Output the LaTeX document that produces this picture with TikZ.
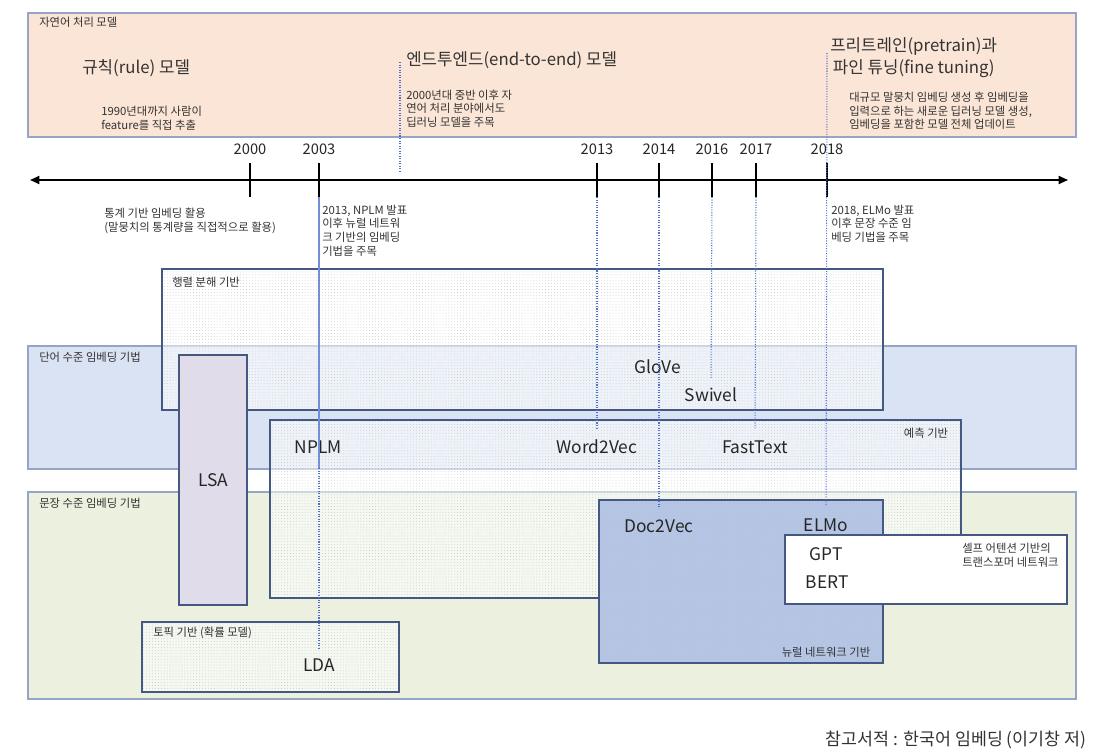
\documentclass[tikz,border=0pt]{standalone}
\usepackage{fontspec}
\setmainfont{Noto Sans CJK KR}
\usetikzlibrary{arrows.meta, patterns.meta}
\definecolor{nlp-bg}{RGB}{251,229,214}
\definecolor{word-bg}{RGB}{218,227,243}
\definecolor{sent-bg}{RGB}{235,241,222}
\definecolor{lsa-bg}{RGB}{224,220,234}
\definecolor{neural-bg}{RGB}{180,197,229}
\definecolor{band-line}{RGB}{150,165,195}
\definecolor{box-line}{RGB}{68,88,130}
\definecolor{mark-line}{RGB}{80,112,205}

\begin{document}
\begin{tikzpicture}[x=0.75pt, y=-0.75pt,
    small/.style={font=\fontsize{8.5}{10.2}\selectfont, text=black!80, align=left, inner sep=0pt, anchor=west},
    era/.style={font=\fontsize{12.6}{17}\selectfont, text=black!80, align=left, inner sep=0pt, anchor=west},
    model/.style={font=\fontsize{13}{15}\selectfont, text=black!85, inner sep=1pt},
    year/.style={font=\fontsize{11}{13}\selectfont, text=black!85},
    band/.style={draw=band-line, line width=0.8pt},
    group/.style={draw=box-line, line width=1.4pt},
    speckle/.style={pattern={Dots[radius=0.3pt, distance=2.2pt]}, pattern color=black!25},
    whiten/.style={preaction={fill=white, fill opacity=0.55}},
    markline/.style={draw=mark-line, line width=0.8pt, dash pattern=on 0.8pt off 1.1pt},
    solidmark/.style={draw=mark-line!80, line width=0.8pt}]
    \useasboundingbox (0,0) rectangle (1094,753);

    % NLP model eras
    \draw[band, fill=nlp-bg] (28,13) rectangle (1076,137);
    \node[small] (nlp) at (39,22) {자연어 처리 모델};
    \node[era] (rule) at (82,68) {규칙(rule) 모델};
    \node[small] (rule-txt) at (101,118.5) {1990년대까지 사람이\\feature를 직접 추출};
    \node[era] (e2e) at (406,60) {엔드투엔드(end-to-end) 모델};
    \node[small] (e2e-txt) at (406,108.5) {2000년대 중반 이후 자\\연어 처리 분야에서도\\딥러닝 모델을 주목};
    \node[era] (ptft) at (830,57.5) {프리트레인(pretrain)과\\\hspace{2pt}파인 튜닝(fine tuning)};
    \node[small] (ptft-txt) at (849,111) {대규모 말뭉치 임베딩 생성 후 임베딩을\\입력으로 하는 새로운 딥러닝 모델 생성,\\임베딩을 포함한 모델 전체 업데이트};

    % embedding levels
    \draw[band, fill=word-bg] (28,346) rectangle (1076,469);
    \draw[band, fill=sent-bg] (28,492) rectangle (1076,699);
    \node[small] (word-lvl) at (39,357) {단어 수준 임베딩 기법};
    \node[small] (sent-lvl) at (39,503) {문장 수준 임베딩 기법};

    % method groups
    \draw[group, whiten, speckle] (162,269) rectangle (883,410);
    \node[small] (matrix) at (172,282) {행렬 분해 기반};
    \draw[group, fill=lsa-bg] (179,355) rectangle (247,605);
    \node[model] (lsa) at (213,480) {LSA};
    \draw[group, whiten, speckle] (270,420) rectangle (961,598);
    \node[small, anchor=center] (predict) at (926,433) {예측 기반};
    \draw[group, preaction={fill=neural-bg}, speckle] (599,500) rectangle (883,663);
    \node[small, anchor=center] (neural) at (826,652) {뉴럴 네트워크 기반};
    \draw[group, fill=white] (785,535) rectangle (1067,604);
    \node[small] (attn) at (962,555.5) {셀프 어텐션 기반의\\트랜스포머 네트워크};
    \draw[group, whiten, speckle] (142,622) rectangle (399,692);
    \node[small] (topic) at (153,633) {토픽 기반 (확률 모델)};

    % models
    \node[model] (glove) at (658,367) {GloVe};
    \node[model] (swivel) at (711,395) {Swivel};
    \node[model] (nplm) at (318,447) {NPLM};
    \node[model] (w2v) at (597,447) {Word2Vec};
    \node[model] (fasttext) at (755,447) {FastText};
    \node[model] (d2v) at (659,526) {Doc2Vec};
    \node[model] (elmo) at (826,525) {ELMo};
    \node[model] (gpt) at (826,554) {GPT};
    \node[model] (bert) at (827,582) {BERT};
    \node[model] (lda) at (319,665) {LDA};

    % timeline
    \coordinate (tl-left) at (30,180);
    \coordinate (tl-right) at (1068,180);
    \draw[{Triangle[length=7pt,width=6pt]}-{Triangle[length=7pt,width=6pt]}, line width=1.3pt] (tl-left) -- (tl-right);
    \foreach \yr/\xx in {2000/250, 2003/319, 2013/597, 2014/659, 2016/712, 2017/756, 2018/827} {
        \draw[line width=1.3pt] (\xx,163) -- (\xx,197);
        \coordinate (b\yr) at (\xx,197);
        \node[year] (y\yr) at (\xx,149) {\yr};
    }
    \node[small] (stat-txt) at (104,221) {통계 기반 임베딩 활용\\(말뭉치의 통계량을 직접적으로 활용)};
    \node[small] (nplm-txt) at (322,230.5) {2013, NPLM 발표\\이후 뉴럴 네트워\\크 기반의 임베딩\\기법을 주목};
    \node[small] (elmo-txt) at (831,223.5) {2018, ELMo 발표\\이후 문장 수준 임\\베딩 기법을 주목};

    % year markers
    \coordinate (e2e-top) at (400,62);
    \coordinate (e2e-bot) at (400,172);
    \draw[markline] (e2e-top) -- (e2e-bot);
    \coordinate (split2003) at (319,468);
    \draw[solidmark] (b2003) -- (split2003);
    \draw[markline, shorten >=6pt] (split2003) -- (lda.north);
    \draw[markline, shorten >=8pt] (b2013) -- (w2v.north);
    \draw[markline, shorten >=8pt] (b2014) -- (d2v.north);
    \draw[markline, shorten >=6pt] (b2016) -- (swivel.north);
    \draw[markline, shorten >=8pt] (b2017) -- (fasttext.north);
    \coordinate (pt-top) at (827,53);
    \draw[markline, shorten >=8pt] (pt-top) -- (elmo.north);

    % source
    \node[font=\fontsize{13}{15}\selectfont, text=black!80] (src) at (956,740) {참고서적 : 한국어 임베딩 (이기창 저)};
\end{tikzpicture}
\end{document}
